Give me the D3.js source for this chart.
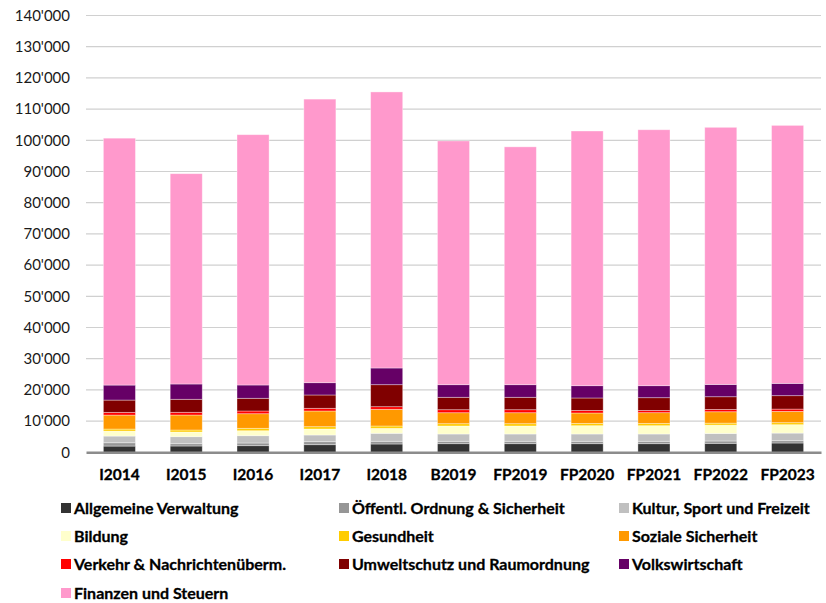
<!DOCTYPE html>
<html>
<head>
<meta charset="utf-8">
<script src="https://cdn.jsdelivr.net/npm/d3@7"></script>
<style>
  body { margin: 0; background: #fff; }
  svg text { font-family: Lato, "Open Sans", sans-serif; }
</style>
</head>
<body>
<div id="chart"></div>
<script>
const years = ['I2014', 'I2015', 'I2016', 'I2017', 'I2018', 'B2019', 'FP2019', 'FP2020', 'FP2021', 'FP2022', 'FP2023'];

const allgemeineVerwaltung = [2000, 2020, 2120, 2440, 2660, 2760, 2760, 2760, 2760, 2880, 2980];
const oeffentlOrdnung = [1060, 740, 860, 960, 870, 770, 770, 770, 770, 740, 740];
const kulturSport = [2140, 2240, 2340, 2140, 2560, 2340, 2340, 2340, 2340, 2430, 2440];
const bildung = [1610, 1510, 1600, 1930, 1600, 2560, 2560, 2660, 2660, 2660, 2690];
const gesundheit = [640, 640, 770, 740, 740, 740, 740, 740, 740, 640, 650];
const sozialeSicherheit = [4480, 4800, 4680, 5030, 5350, 3520, 3520, 3330, 3430, 3650, 3620];
const verkehr = [870, 870, 870, 860, 840, 960, 960, 830, 730, 740, 730];
const umweltschutz = [3940, 4170, 4070, 4270, 7050, 3980, 3980, 3980, 4070, 4070, 4300];
const volkswirtschaft = [4810, 4900, 4260, 3940, 5350, 4040, 4040, 3940, 3850, 3940, 3940];
const finanzen = [79130, 67410, 80230, 90890, 88480, 78130, 76230, 81630, 82030, 82410, 82690];

const seriesNames = ['Allgemeine Verwaltung', 'Öffentl. Ordnung & Sicherheit', 'Kultur, Sport und Freizeit',
  'Bildung', 'Gesundheit', 'Soziale Sicherheit', 'Verkehr & Nachrichtenüberm.',
  'Umweltschutz und Raumordnung', 'Volkswirtschaft', 'Finanzen und Steuern'];
const seriesValues = [allgemeineVerwaltung, oeffentlOrdnung, kulturSport, bildung, gesundheit,
  sozialeSicherheit, verkehr, umweltschutz, volkswirtschaft, finanzen];
const colors = ['#333333', '#969696', '#c0c0c0', '#ffffcc', '#ffcc00', '#ff9900', '#ff0000', '#800000', '#660066', '#ff99cc'];

const yTicks = d3.range(0, 140001, 10000);

const width = 826;
const height = 603;
const plotLeft = 86;
const plotRight = 821;
const plotTop = 15.5;
const plotBottom = 452.3;

const svg = d3.select('#chart').append('svg')
  .attr('width', width)
  .attr('height', height);

// one row per year, keyed by series name
const table = years.map((y, i) => {
  const row = { year: y };
  seriesNames.forEach((s, j) => row[s] = seriesValues[j][i]);
  return row;
});

const x = d3.scaleBand()
  .domain(years)
  .range([plotLeft, plotRight])
  .paddingInner(0.52)
  .paddingOuter(0.26);

const y = d3.scaleLinear()
  .domain([0, 140000])
  .range([plotBottom, plotTop]);

const color = d3.scaleOrdinal().domain(seriesNames).range(colors);

// gridlines
svg.append('g')
  .selectAll('line')
  .data(yTicks.slice(1))
  .join('line')
  .attr('x1', plotLeft)
  .attr('x2', plotRight)
  .attr('y1', d => y(d))
  .attr('y2', d => y(d))
  .attr('stroke', '#d0d0d0')
  .attr('stroke-width', 1.2);

// y axis labels
const fmt = d => d3.format(',')(d).replace(/,/g, "'");
const yAxis = d3.axisLeft(y).tickValues(yTicks).tickFormat(fmt).tickSize(0).tickPadding(16);
const yAxisG = svg.append('g')
  .attr('transform', `translate(${plotLeft},0)`)
  .call(yAxis);
yAxisG.select('.domain').remove();
yAxisG.selectAll('text')
  .attr('font-size', 15)
  .attr('fill', '#1a1a1a')
  .style('font-family', 'Lato, sans-serif');

// stacked bars
const stack = d3.stack().keys(seriesNames);
const stacked = stack(table);

svg.append('g')
  .selectAll('g')
  .data(stacked)
  .join('g')
  .attr('fill', d => color(d.key))
  .selectAll('rect')
  .data(d => d)
  .join('rect')
  .attr('x', d => x(d.data.year))
  .attr('width', x.bandwidth())
  .attr('y', d => y(d[1]))
  .attr('height', d => y(d[0]) - y(d[1]))
  .attr('stroke', '#ffffff')
  .attr('stroke-opacity', 0.45)
  .attr('stroke-width', 0.8);

// x axis
const xAxis = d3.axisBottom(x).tickSize(0).tickPadding(17);
const xAxisG = svg.append('g')
  .attr('transform', `translate(0,${plotBottom})`)
  .call(xAxis);
xAxisG.select('.domain')
  .attr('stroke', '#8c8c8c')
  .attr('stroke-width', 2.6);
xAxisG.selectAll('text')
  .attr('font-size', 15.5)
  .attr('font-weight', 'bold')
  .attr('fill', '#000')
  .attr('stroke', '#000')
  .attr('stroke-width', 0.3)
  .style('font-family', 'Lato, sans-serif');

// legend
const legendCols = [61, 339, 619];
const legendRowY = [508, 536, 564, 593];
const legend = svg.append('g')
  .selectAll('g')
  .data(seriesNames)
  .join('g')
  .attr('transform', (d, i) => `translate(${legendCols[i % 3]},${legendRowY[Math.floor(i / 3)]})`);

legend.append('rect')
  .attr('x', 0)
  .attr('y', -5)
  .attr('width', 10)
  .attr('height', 10)
  .attr('fill', d => color(d));

legend.append('text')
  .attr('x', 13)
  .attr('y', 0)
  .attr('dy', '0.35em')
  .attr('font-size', 16)
  .attr('font-weight', 'bold')
  .attr('fill', '#000')
  .attr('stroke', '#000')
  .attr('stroke-width', 0.3)
  .text(d => d);
</script>
</body>
</html>
